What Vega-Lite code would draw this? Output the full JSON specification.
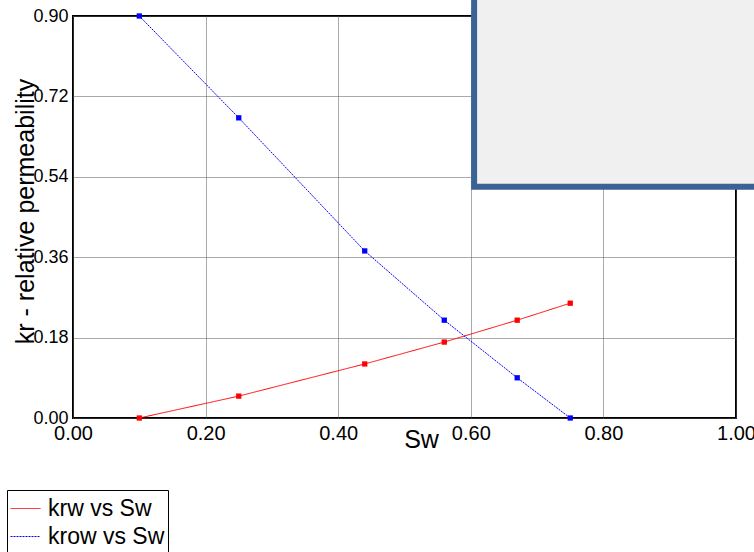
{
  "$schema": "https://vega.github.io/schema/vega-lite/v6.json",
  "width": 663,
  "height": 402,
  "autosize": {"type": "none"},
  "padding": {"left": 73, "top": 16, "right": 18, "bottom": 134},
  "background": "white",
  "datasets": {
    "curves": [
      {"Sw": 0.10, "kr": 0.000, "series": "krw vs Sw"},
      {"Sw": 0.25, "kr": 0.049, "series": "krw vs Sw"},
      {"Sw": 0.44, "kr": 0.121, "series": "krw vs Sw"},
      {"Sw": 0.56, "kr": 0.170, "series": "krw vs Sw"},
      {"Sw": 0.67, "kr": 0.219, "series": "krw vs Sw"},
      {"Sw": 0.75, "kr": 0.257, "series": "krw vs Sw"},
      {"Sw": 0.10, "kr": 0.900, "series": "krow vs Sw"},
      {"Sw": 0.25, "kr": 0.672, "series": "krow vs Sw"},
      {"Sw": 0.44, "kr": 0.374, "series": "krow vs Sw"},
      {"Sw": 0.56, "kr": 0.219, "series": "krow vs Sw"},
      {"Sw": 0.67, "kr": 0.090, "series": "krow vs Sw"},
      {"Sw": 0.75, "kr": 0.000, "series": "krow vs Sw"}
    ],
    "panel": [
      {"x1": 0.605, "x2": 1.06, "y1": 0.518, "y2": 0.96}
    ]
  },
  "layer": [
    {
      "data": {"name": "curves"},
      "mark": {
        "type": "line",
        "strokeWidth": 1,
        "point": {"shape": "square", "size": 28, "filled": true}
      },
      "encoding": {
        "x": {
          "field": "Sw",
          "type": "quantitative",
          "scale": {"domain": [0, 1], "nice": false, "zero": false},
          "axis": {
            "title": "Sw",
            "values": [0, 0.2, 0.4, 0.6, 0.8, 1.0],
            "format": ".2f",
            "labelFontSize": 20,
            "labelPadding": 5,
            "titleX": 348,
            "titleY": 29,
            "titleBaseline": "alphabetic",
            "titleAnchor": null,
            "titleAlign": "center"
          }
        },
        "y": {
          "field": "kr",
          "type": "quantitative",
          "scale": {"domain": [0, 0.9], "nice": false},
          "axis": {
            "title": "kr - relative permeability",
            "values": [0, 0.18, 0.36, 0.54, 0.72, 0.9],
            "format": ".2f",
            "labelFontSize": 18,
            "labelPadding": 5,
            "titleX": -40,
            "titleY": 195,
            "titleAngle": -90,
            "titleBaseline": "alphabetic",
            "titleAlign": "center",
            "titleAnchor": null
          }
        },
        "color": {
          "field": "series",
          "type": "nominal",
          "sort": ["krw vs Sw", "krow vs Sw"],
          "scale": {"domain": ["krw vs Sw", "krow vs Sw"], "range": ["#ff0000", "#0000ff"]},
          "legend": {
            "title": null,
            "orient": "none",
            "legendX": -66,
            "legendY": 474,
            "symbolType": "stroke",
            "symbolSize": 900,
            "symbolStrokeWidth": 1,
            "labelFontSize": 23,
            "labelFont": "Liberation Sans",
            "labelColor": "black",
            "labelOffset": 7,
            "rowPadding": 0,
            "padding": 3,
            "strokeColor": "black",
            "fillColor": "white"
          }
        },
        "strokeDash": {
          "field": "series",
          "type": "nominal",
          "sort": ["krw vs Sw", "krow vs Sw"],
          "scale": {"domain": ["krw vs Sw", "krow vs Sw"], "range": [[1, 0], [2, 1]]},
          "legend": null
        },
        "order": {"field": "Sw", "type": "quantitative"}
      }
    },
    {
      "data": {"name": "panel"},
      "mark": {
        "type": "rect",
        "fill": "#f0f0f0",
        "stroke": "#3b6294",
        "strokeWidth": 6,
        "clip": false
      },
      "encoding": {
        "x": {"field": "x1", "type": "quantitative"},
        "x2": {"field": "x2"},
        "y": {"field": "y1", "type": "quantitative"},
        "y2": {"field": "y2"}
      }
    }
  ],
  "config": {
    "font": "Liberation Sans",
    "view": {"stroke": "black", "strokeWidth": 2},
    "axis": {
      "domain": false,
      "ticks": false,
      "grid": true,
      "gridColor": "#555555",
      "gridDash": [1, 1],
      "gridWidth": 1,
      "labelFont": "Liberation Sans",
      "labelColor": "black",
      "titleFont": "Liberation Sans",
      "titleFontSize": 25,
      "titleFontWeight": "normal",
      "titleColor": "black",
      "labelOverlap": false,
      "labelBound": false,
      "labelFlush": false
    }
  }
}
